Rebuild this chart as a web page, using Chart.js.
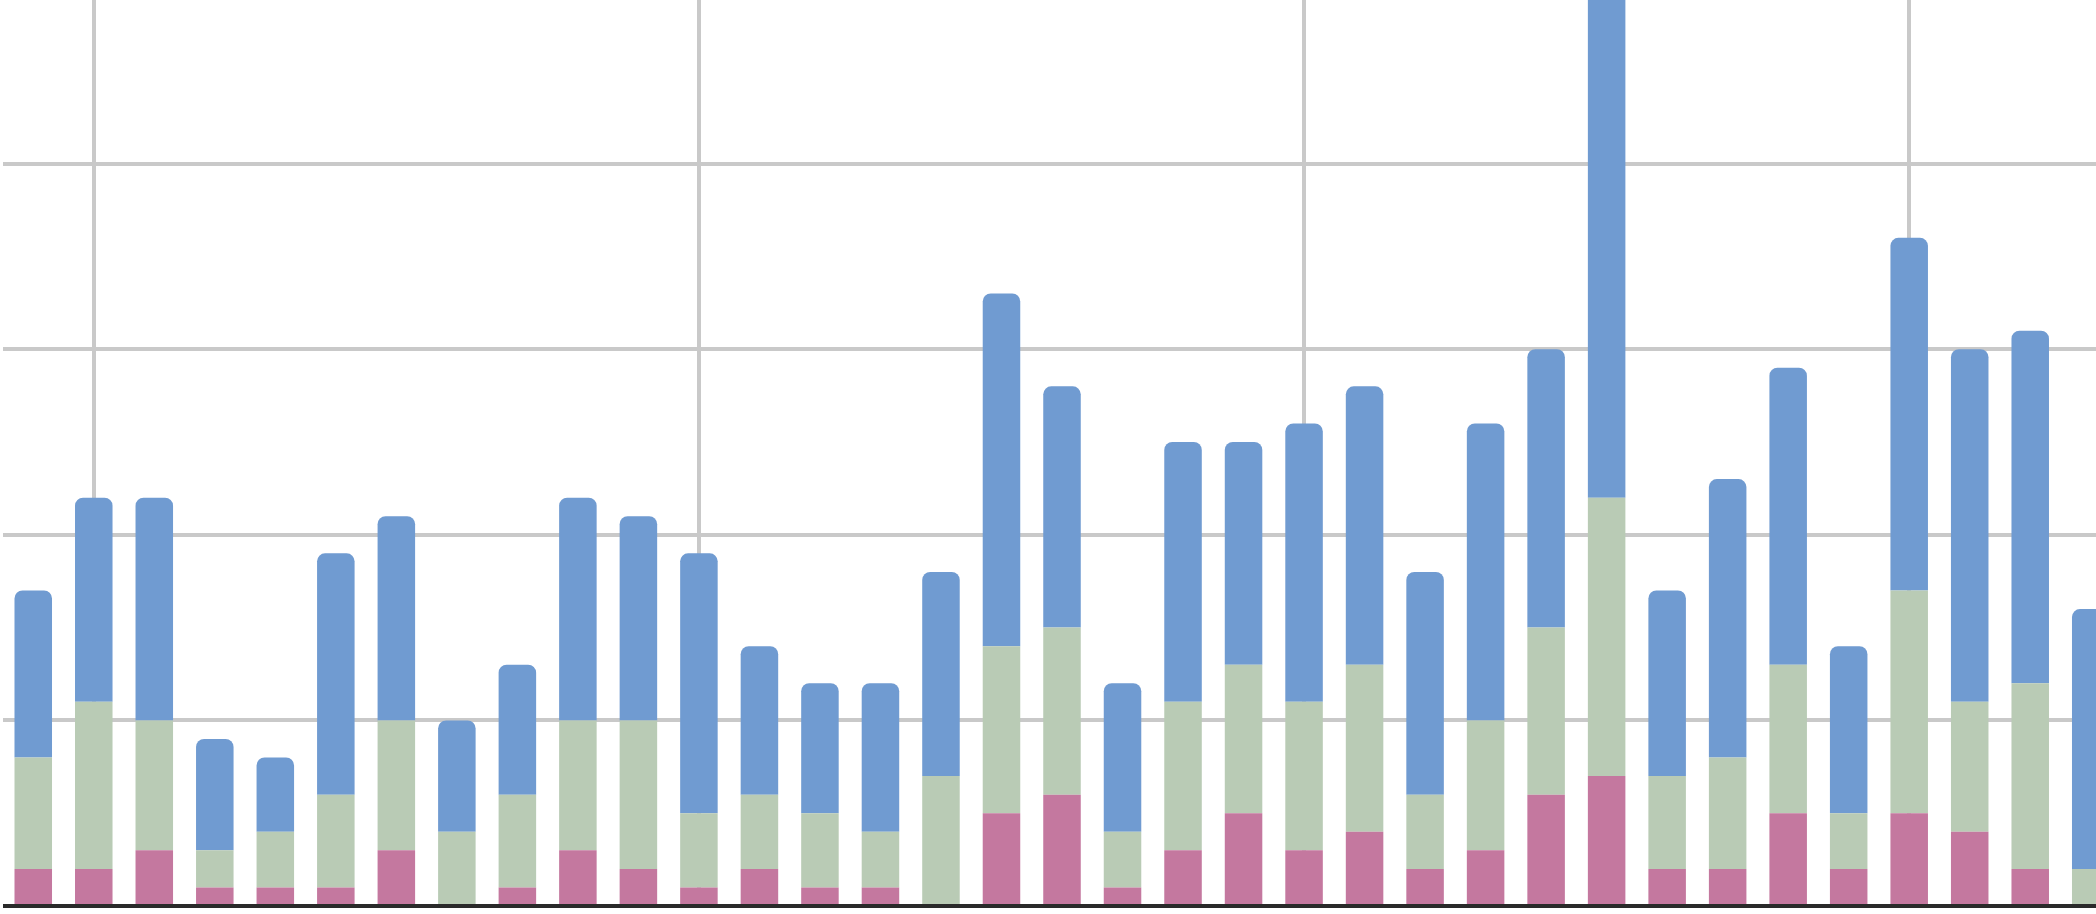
<!DOCTYPE html>
<html>
<head>
<meta charset="utf-8">
<script src="https://cdn.jsdelivr.net/npm/chart.js@4/dist/chart.umd.min.js"></script>
<style>
  html, body { margin: 0; padding: 0; background: #fff; overflow: hidden; }
  body { width: 2096px; height: 914px; position: relative; }
  #wrap { position: absolute; left: 3px; top: -22px; width: 2118px; height: 936px; }
</style>
</head>
<body>
<div id="wrap"><canvas id="chart"></canvas></div>
<script>
// Categories (35 visible columns, the last one runs off the right edge)
const categories = ['1','2','3','4','5','6','7','8','9','10','11','12','13','14','15','16','17','18',
                    '19','20','21','22','23','24','25','26','27','28','29','30','31','32','33','34','35'];

// Stacked series, bottom to top
const pinkValues  = [2,2,3,1,1,1,3,0,1,3,2,1,2,1,1,0,5,6,1,3,5,3,4,2,3,6,7,2,2,5,2,5,4,2,0];
const greenValues = [6,9,7,2,3,5,7,4,5,7,8,4,4,4,3,7,9,9,3,8,8,8,9,4,7,9,15,5,6,8,3,12,7,10,2];
const blueValues  = [9,11,12,6,4,13,11,6,7,12,11,14,8,7,8,11,19,13,8,14,12,15,15,12,16,15,30,10,15,16,9,19,19,19,14];

// y axis range (top of the picture cuts the chart)
const yMin = 0;
const yMax = 50;
const yStep = 10;

// every tenth column carries a vertical grid line
const xGridIndexes = [1, 11, 21, 31];

const ctx = document.getElementById('chart').getContext('2d');

const chart = new Chart(ctx, {
    type: 'bar',
    data: {
        labels: categories,
        datasets: [
            {
                label: 'pink',
                data: pinkValues,
                backgroundColor: '#c4789f',
                borderWidth: 0,
            },
            {
                label: 'green',
                data: greenValues,
                backgroundColor: '#b9cbb5',
                borderWidth: 0,
            },
            {
                label: 'blue',
                data: blueValues,
                backgroundColor: '#709bd1',
                borderWidth: 0,
                borderRadius: { topLeft: 8, topRight: 8, bottomLeft: 0, bottomRight: 0 },
                borderSkipped: 'start',
            },
        ],
    },
    options: {
        responsive: true,
        maintainAspectRatio: false,
        animation: false,
        layout: { padding: { left: 0, right: 0, top: 0, bottom: 8 } },
        datasets: {
            bar: { categoryPercentage: 1.0, barPercentage: 0.62 },
        },
        plugins: {
            legend: { display: false },
            tooltip: { enabled: false },
        },
        scales: {
            x: {
                stacked: true,
                ticks: { display: false },
                grid: {
                    offset: false,
                    drawTicks: false,
                    lineWidth: 4,
                    color: (c) => xGridIndexes.includes(c.index) ? '#c9c9c9' : 'rgba(0,0,0,0)',
                },
                border: { display: true, color: '#2a2a2a', width: 4, z: 1 },
            },
            y: {
                stacked: true,
                min: yMin,
                max: yMax,
                ticks: { display: false, stepSize: yStep },
                grid: { drawTicks: false, lineWidth: 4, color: '#c9c9c9' },
                border: { display: false },
            },
        },
    },
});
</script>
</body>
</html>
